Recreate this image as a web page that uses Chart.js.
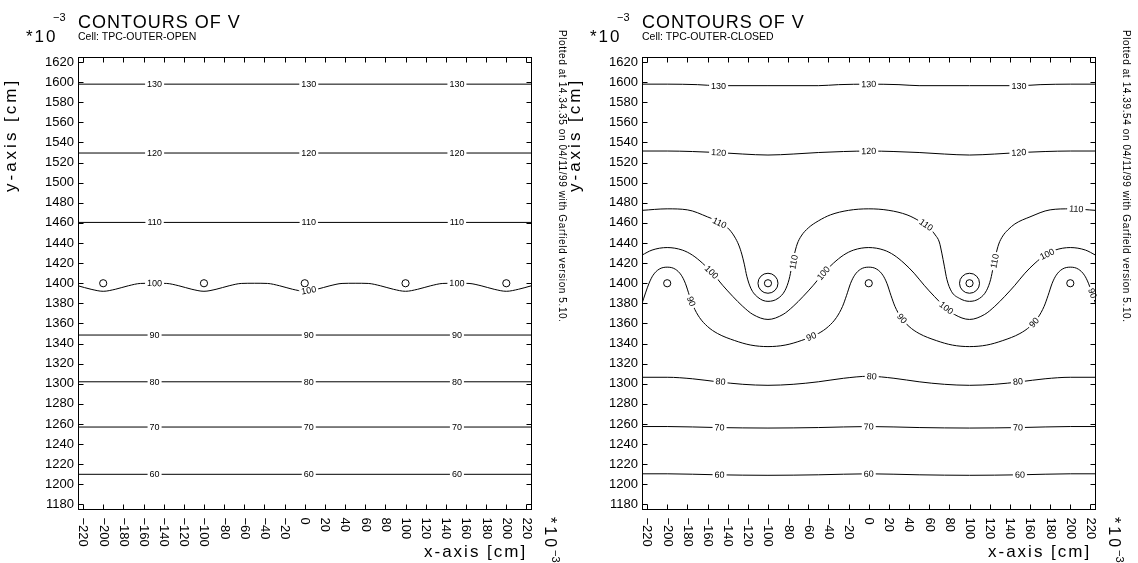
<!DOCTYPE html>
<html>
<head>
<meta charset="utf-8">
<script src="https://cdn.jsdelivr.net/npm/chart.js@4.4.0/dist/chart.umd.min.js"></script>
<style>
body { margin: 0; background: #fff; width: 1138px; height: 563px; overflow: hidden; position: relative; font-family: "Liberation Sans", Arial, sans-serif; }
.panel { position: absolute; top: 0; height: 563px; }
.panel canvas { position: absolute; left: 0; top: 0; }
.t { position: absolute; white-space: nowrap; line-height: 1; color: #000; }
.mul { left: 26px; top: 28px; font-size: 17px; letter-spacing: 2px; }
.sup { left: 53px; top: 12px; font-size: 11px; }
.title { left: 78px; top: 13px; font-size: 18px; letter-spacing: 1px; }
.cell { left: 78px; top: 31px; font-size: 10.5px; }
.ytitle { left: 2px; top: 192px; font-size: 17px; letter-spacing: 3px; transform: rotate(-90deg); transform-origin: 0 0; }
.xtitle { left: 424px; top: 543px; font-size: 17px; letter-spacing: 2px; }
.xmul { left: 561px; top: 517px; font-size: 16px; letter-spacing: 3px; transform: rotate(90deg); transform-origin: 0 0; }
.xmul span { font-size: 11px; vertical-align: 7px; letter-spacing: 0; }
.stamp { left: 567px; top: 30px; font-size: 10px; letter-spacing: 0.6px; transform: rotate(90deg); transform-origin: 0 0; }
</style>
</head>
<body>
<div class="panel" style="left:0;width:569px">
  <canvas id="openChart" width="569" height="563"></canvas>
  <div class="t sup">−3</div>
  <div class="t mul">*10</div>
  <div class="t title">CONTOURS OF V</div>
  <div class="t cell">Cell: TPC-OUTER-OPEN</div>
  <div class="t ytitle">y-axis [cm]</div>
  <div class="t xtitle">x-axis [cm]</div>
  <div class="t xmul">*10<span>−3</span></div>
  <div class="t stamp">Plotted at 14.34.35 on 04/11/99 with Garfield version 5.10.</div>
</div>
<div class="panel" style="left:564px;width:574px">
  <canvas id="closedChart" width="574" height="563"></canvas>
  <div class="t sup">−3</div>
  <div class="t mul">*10</div>
  <div class="t title">CONTOURS OF V</div>
  <div class="t cell">Cell: TPC-OUTER-CLOSED</div>
  <div class="t ytitle">y-axis [cm]</div>
  <div class="t xtitle">x-axis [cm]</div>
  <div class="t xmul">*10<span>−3</span></div>
  <div class="t stamp">Plotted at 14.39.54 on 04/11/99 with Garfield version 5.10.</div>
</div>
<script>
// Поділки осей
const xTickValues = [-220, -200, -180, -160, -140, -120, -100, -80, -60, -40, -20, 0, 20, 40, 60, 80, 100, 120, 140, 160, 180, 200, 220];
const xTickLabels = ['−220', '−200', '−180', '−160', '−140', '−120', '−100', '−80', '−60', '−40', '−20', '0', '20', '40', '60', '80', '100', '120', '140', '160', '180', '200', '220'];
const yTickValues = [1180, 1200, 1220, 1240, 1260, 1280, 1300, 1320, 1340, 1360, 1380, 1400, 1420, 1440, 1460, 1480, 1500, 1520, 1540, 1560, 1580, 1600, 1620];
const yTickLabels = ['1180', '1200', '1220', '1240', '1260', '1280', '1300', '1320', '1340', '1360', '1380', '1400', '1420', '1440', '1460', '1480', '1500', '1520', '1540', '1560', '1580', '1600', '1620'];

// Дроти (обидві комірки)
const wireX = [-200, -100, 0, 100, 200];
const wireY = [1400, 1400, 1400, 1400, 1400];
const ringX = [-100, 100];
const ringY = [1400, 1400];

// Ліва комірка: TPC-OUTER-OPEN
const openEdgeX = [-225, 225];
const open130 = [1598, 1598];
const open120 = [1529.5, 1529.5];
const open110 = [1460.5, 1460.5];
const open90 = [1348.5, 1348.5];
const open80 = [1302, 1302];
const open70 = [1257, 1257];
const open60 = [1210, 1210];
const open100X = [-225, -212, -200, -188, -175, -163, -150, -137, -125, -112, -100, -88, -75, -63, -50, -37, -25, -12, 0, 12, 25, 37, 50, 63, 75, 88, 100, 112, 125, 137, 150, 163, 175, 188, 200, 212, 225];
const open100Y = [1397.5, 1394, 1392, 1394, 1397.5, 1399.8, 1400, 1399.8, 1397.5, 1394, 1392, 1394, 1397.5, 1399.8, 1400, 1399.8, 1397.5, 1394, 1392, 1394, 1397.5, 1399.8, 1400, 1399.8, 1397.5, 1394, 1392, 1394, 1397.5, 1399.8, 1400, 1399.8, 1397.5, 1394, 1392, 1394, 1397.5];

const openLabelLevel = [130, 130, 130, 120, 120, 120, 110, 110, 110, 100, 100, 100, 90, 90, 90, 80, 80, 80, 70, 70, 70, 60, 60, 60];
const openLabelX = [-149, 4, 151, -149, 4, 151, -149, 4, 151, -149, 4, 151, -149, 4, 151, -149, 4, 151, -149, 4, 151, -149, 4, 151];
const openLabelY = [1598, 1598, 1598, 1529.5, 1529.5, 1529.5, 1460.5, 1460.5, 1460.5, 1400, 1393, 1400, 1348.5, 1348.5, 1348.5, 1302, 1302, 1302, 1257, 1257, 1257, 1210, 1210, 1210];

// Права комірка: TPC-OUTER-CLOSED
const closed130X = [-225, -200, -170, -150, -100, -50, -30, 0, 30, 50, 100, 150, 170, 200, 225];
const closed130Y = [1598, 1598, 1597.5, 1596.5, 1596.5, 1596.5, 1597.5, 1598, 1597.5, 1596.5, 1596.5, 1596.5, 1597.5, 1598, 1598];
const closed120X = [-225, -200, -175, -150, -125, -100, -75, -50, -25, 0, 25, 50, 75, 100, 125, 150, 175, 200, 225];
const closed120Y = [1531.5, 1531.5, 1531, 1530, 1528.5, 1527.5, 1528.5, 1530, 1531, 1531.5, 1531, 1530, 1528.5, 1527.5, 1528.5, 1530, 1531, 1531.5, 1531.5];
const closed110X = [-225, -200, -180, -160, -145, -138, -133, -129, -126, -123.5, -121, -117, -110, -100, -90, -83, -79, -76.5, -74, -71, -67, -60, -50, -38, -20, 0, 20, 38, 50, 60, 66, 70, 72.5, 75, 77.5, 82, 90, 100, 110, 117, 121, 123.5, 126, 129, 133, 138, 145, 160, 180, 200, 225];
const closed110Y = [1472.5, 1474, 1473, 1466, 1459, 1453, 1446, 1438, 1429, 1419, 1407, 1395, 1386, 1382, 1385, 1393, 1404, 1416, 1428, 1439, 1447, 1455, 1462, 1468, 1472.5, 1474, 1472.5, 1468, 1462, 1455, 1448, 1441, 1430, 1417, 1404, 1392, 1385, 1382, 1385, 1393, 1404, 1416, 1428, 1439, 1447, 1453, 1459, 1466, 1473, 1474, 1472.5];
const closed100X = [-225, -215, -200, -185, -175, -165, -155, -145, -135, -125, -115, -100, -85, -75, -65, -55, -45, -35, -25, -15, 0, 15, 25, 35, 45, 55, 65, 75, 85, 100, 115, 125, 135, 145, 155, 165, 175, 185, 200, 215, 225];
const closed100Y = [1428, 1433, 1435.5, 1433, 1428, 1420, 1410, 1398, 1387, 1377, 1369, 1364, 1369, 1377, 1387, 1398, 1410, 1420, 1428, 1433, 1435.5, 1433, 1428, 1420, 1410, 1398, 1387, 1377, 1369, 1364, 1369, 1377, 1387, 1398, 1410, 1420, 1428, 1433, 1435.5, 1433, 1428];
const closed90X = [-225, -218, -214, -208, -200, -192, -186, -182, -178, -174, -168, -160, -150, -133, -117, -100, -83, -67, -50, -40, -32, -26, -22, -18, -14, -8, 0, 8, 14, 18, 22, 26, 32, 40, 50, 67, 83, 100, 117, 133, 150, 160, 168, 174, 178, 182, 186, 192, 200, 208, 214, 218, 225];
const closed90Y = [1380, 1400, 1408, 1414, 1416, 1414, 1408, 1400, 1388, 1377, 1366, 1357, 1350, 1343, 1338.5, 1337, 1338.5, 1343, 1350, 1357, 1366, 1377, 1388, 1400, 1408, 1414, 1416, 1414, 1408, 1400, 1388, 1377, 1366, 1357, 1350, 1343, 1338.5, 1337, 1338.5, 1343, 1350, 1357, 1366, 1377, 1388, 1400, 1408, 1414, 1416, 1414, 1408, 1400, 1380];
const closed80X = [-225, -200, -175, -150, -125, -100, -75, -50, -25, 0, 25, 50, 75, 100, 125, 150, 175, 200, 225];
const closed80Y = [1306.5, 1306.5, 1305, 1302, 1299.5, 1298.5, 1299.5, 1302, 1305.5, 1307.5, 1305.5, 1302, 1299.5, 1298.5, 1299.5, 1302, 1305, 1306.5, 1306.5];
const closed70X = [-225, -200, -150, -100, -50, 0, 50, 100, 150, 200, 225];
const closed70Y = [1257.5, 1257.5, 1256.5, 1256, 1256.5, 1257.5, 1256.5, 1256, 1256.5, 1257.5, 1257.5];
const closed60X = [-225, -200, -150, -100, -50, 0, 50, 100, 150, 200, 225];
const closed60Y = [1210.5, 1210.5, 1209.5, 1209, 1209.5, 1210.5, 1209.5, 1209, 1209.5, 1210.5, 1210.5];

const closedLabelLevel = [130, 130, 130, 120, 120, 120, 110, 110, 110, 110, 110, 100, 100, 100, 100, 90, 90, 90, 90, 90, 80, 80, 80, 70, 70, 70, 60, 60, 60];
const closedLabelX = [-149, 0, 149, -149, 0, 149, -148, -74.5, 57, 125, 206, -156, -45, 77, 177, -176, -57, 33, 164, 222, -147, 3, 148, -148, 0, 148, -148, 0, 150];
const closedLabelY = [1596.5, 1598, 1596.5, 1530, 1531.5, 1530, 1460, 1421, 1458, 1422, 1474, 1411, 1410, 1375.5, 1429, 1382, 1347, 1365, 1361, 1390, 1302.3, 1307.4, 1302.2, 1256.5, 1257.5, 1256.5, 1209.5, 1210.5, 1209.5];

const FONT = '"Liberation Sans", Arial, sans-serif';

function pts(xs, ys) {
    return xs.map((x, i) => ({ x: x, y: ys[i] }));
}

function contour(xs, ys, level) {
    return {
        data: pts(xs, ys), level: level, showLine: true,
        borderColor: '#000', borderWidth: 1, pointRadius: 0, pointHoverRadius: 0,
        cubicInterpolationMode: 'monotone', order: 1
    };
}

function markers(xs, ys, r) {
    return {
        data: pts(xs, ys), showLine: false, pointRadius: r, pointHoverRadius: r,
        borderColor: '#000', backgroundColor: 'rgba(0,0,0,0)', borderWidth: 1, order: 0
    };
}

// Кут підпису вздовж найближчого відрізка лінії
function labelAngle(meta, px, py) {
    const p = meta.data;
    let best = Infinity, ang = 0;
    for (let i = 0; i < p.length - 1; i++) {
        const dx = p[i + 1].x - p[i].x, dy = p[i + 1].y - p[i].y;
        const len2 = dx * dx + dy * dy || 1;
        let t = ((px - p[i].x) * dx + (py - p[i].y) * dy) / len2;
        t = Math.max(0, Math.min(1, t));
        const d = Math.hypot(p[i].x + t * dx - px, p[i].y + t * dy - py);
        if (d < best) { best = d; ang = Math.atan2(dy, dx); }
    }
    if (ang > Math.PI / 2) ang -= Math.PI;
    if (ang < -Math.PI / 2) ang += Math.PI;
    return ang;
}

// Рамка, внутрішні поділки, підписи осі x та рівнів
function garfieldFrame(levels, lx, ly) {
    return {
        id: 'garfieldFrame',
        afterDatasetsDraw(chart) {
            const ctx = chart.ctx;
            const a = chart.chartArea;
            const sx = chart.scales.x, sy = chart.scales.y;
            const L = Math.round(a.left) + 0.5, R = Math.round(a.right) - 0.5;
            const T = Math.round(a.top) + 0.5, B = Math.round(a.bottom) - 0.5;
            ctx.save();

            // підписи рівнів з розривом лінії
            ctx.font = '9px ' + FONT;
            ctx.textAlign = 'center';
            ctx.textBaseline = 'middle';
            levels.forEach((lev, i) => {
                const idx = chart.data.datasets.findIndex(d => d.level === lev);
                const px = sx.getPixelForValue(lx[i]);
                const py = sy.getPixelForValue(ly[i]);
                const ang = labelAngle(chart.getDatasetMeta(idx), px, py);
                const txt = String(lev);
                const w = ctx.measureText(txt).width;
                ctx.save();
                ctx.translate(px, py);
                ctx.rotate(ang);
                ctx.fillStyle = '#fff';
                ctx.fillRect(-w / 2 - 2, -3.5, w + 4, 7);
                ctx.fillStyle = '#000';
                ctx.fillText(txt, 0, 0.5);
                ctx.restore();
            });

            ctx.strokeStyle = '#000';
            ctx.lineWidth = 1;
            ctx.strokeRect(L, T, R - L, B - T);
            ctx.beginPath();
            xTickValues.forEach(v => {
                const px = Math.round(sx.getPixelForValue(v)) + 0.5;
                ctx.moveTo(px, B); ctx.lineTo(px, B - 5);
                ctx.moveTo(px, T); ctx.lineTo(px, T + 5);
            });
            yTickValues.forEach(v => {
                const py = Math.round(sy.getPixelForValue(v)) + 0.5;
                ctx.moveTo(L, py); ctx.lineTo(L + 5, py);
                ctx.moveTo(R, py); ctx.lineTo(R - 5, py);
            });
            ctx.stroke();

            // підписи осі x, повернуті за годинниковою стрілкою
            ctx.fillStyle = '#000';
            ctx.font = '13px ' + FONT;
            ctx.textAlign = 'left';
            ctx.textBaseline = 'middle';
            xTickValues.forEach((v, i) => {
                ctx.save();
                ctx.translate(sx.getPixelForValue(v), a.bottom + 8);
                ctx.rotate(Math.PI / 2);
                ctx.fillText(xTickLabels[i], 0, 0);
                ctx.restore();
            });
            ctx.restore();
        }
    };
}

function makeChart(id, width, datasets, levels, lx, ly) {
    const ctx = document.getElementById(id).getContext('2d');
    return new Chart(ctx, {
        type: 'scatter',
        data: { datasets: datasets },
        options: {
            responsive: false,
            animation: false,
            events: [],
            layout: { padding: { left: 0, right: width - 531.5, top: 57, bottom: 53.5 } },
            plugins: { legend: { display: false }, tooltip: { enabled: false } },
            scales: {
                x: { type: 'linear', min: -225, max: 225, display: false },
                y: {
                    type: 'linear', min: 1175, max: 1625,
                    grid: { display: false, drawTicks: false },
                    border: { display: false },
                    afterBuildTicks: s => { s.ticks = yTickValues.map(v => ({ value: v })); },
                    afterFit: s => { s.width = 78; },
                    ticks: {
                        autoSkip: false, padding: 4, color: '#000',
                        font: { family: FONT, size: 13 },
                        callback: v => yTickLabels[yTickValues.indexOf(v)]
                    }
                }
            }
        },
        plugins: [garfieldFrame(levels, lx, ly)]
    });
}

makeChart('openChart', 569, [
    contour(openEdgeX, open130, 130),
    contour(openEdgeX, open120, 120),
    contour(openEdgeX, open110, 110),
    contour(open100X, open100Y, 100),
    contour(openEdgeX, open90, 90),
    contour(openEdgeX, open80, 80),
    contour(openEdgeX, open70, 70),
    contour(openEdgeX, open60, 60),
    markers(wireX, wireY, 3.6)
], openLabelLevel, openLabelX, openLabelY);

makeChart('closedChart', 574, [
    contour(closed130X, closed130Y, 130),
    contour(closed120X, closed120Y, 120),
    contour(closed110X, closed110Y, 110),
    contour(closed100X, closed100Y, 100),
    contour(closed90X, closed90Y, 90),
    contour(closed80X, closed80Y, 80),
    contour(closed70X, closed70Y, 70),
    contour(closed60X, closed60Y, 60),
    markers(wireX, wireY, 3.6),
    markers(ringX, ringY, 10)
], closedLabelLevel, closedLabelX, closedLabelY);
</script>
</body>
</html>
